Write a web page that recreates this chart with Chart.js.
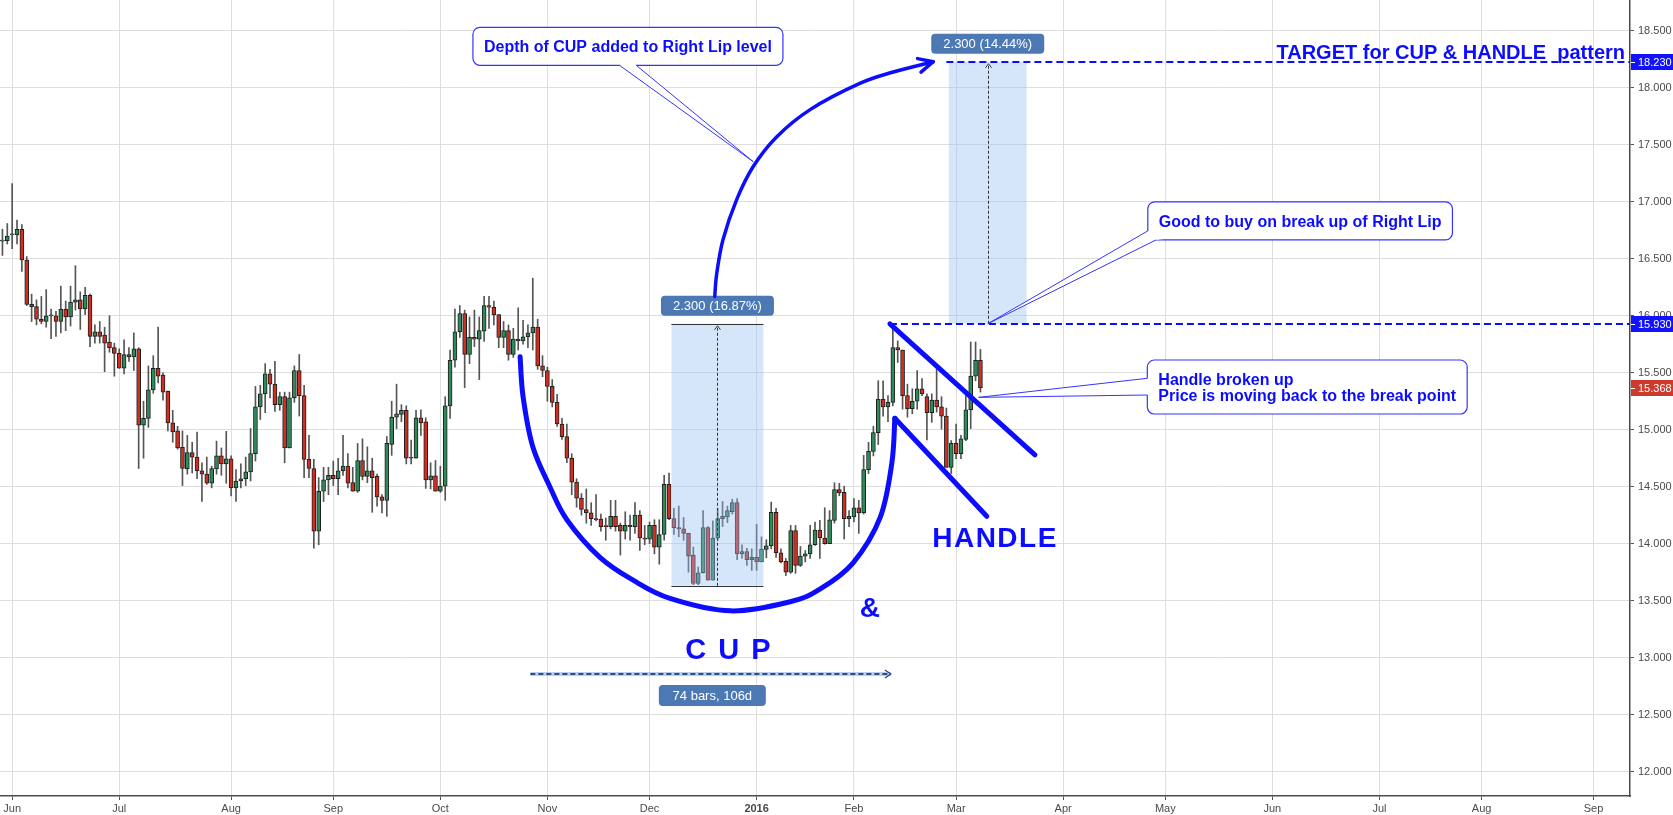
<!DOCTYPE html>
<html>
<head>
<meta charset="utf-8">
<title>CUP &amp; HANDLE</title>
<script src="https://cdn.jsdelivr.net/npm/chart.js@4.4.1/dist/chart.umd.min.js"></script>
<style>
  html, body { margin: 0; padding: 0; background: #fff; }
  canvas { display: block; }
</style>
</head>
<body>
<canvas id="chart" width="1673" height="815"></canvas>
<script>
// trading calendar (weekdays, minus these holidays)
const firstDay = '2015-05-28';
const lastDay = '2016-09-12';
const holidays = ['2015-12-25', '2016-01-01', '2016-03-25'];
const monthNames = ['Jan', 'Feb', 'Mar', 'Apr', 'May', 'Jun', 'Jul', 'Aug', 'Sep', 'Oct', 'Nov', 'Dec'];

// daily OHLC, one entry per trading day from firstDay
const opens = [
  16.655, 16.66, 16.71, 16.71, 16.76, 16.49, 16.10, 16.08, 15.97, 15.95,
  16.00, 16.00, 15.95, 16.06, 15.99, 16.12, 16.14, 16.06, 16.18, 15.82,
  15.86, 15.83, 15.77, 15.72, 15.67, 15.54, 15.66, 15.64, 15.71, 15.04,
  15.10, 15.35, 15.54, 15.48, 15.34, 15.06, 14.99, 14.845, 14.655, 14.80,
  14.76, 14.64, 14.61, 14.53, 14.655, 14.77, 14.70, 14.745, 14.49, 14.55,
  14.57, 14.63, 14.79, 15.20, 15.315, 15.49, 15.40, 15.22, 15.29, 14.84,
  15.28, 15.52, 15.30, 14.74, 14.66, 14.11, 14.46, 14.56, 14.60, 14.57,
  14.64, 14.68, 14.535, 14.46, 14.73, 14.59, 14.64, 14.59, 14.41, 14.38,
  14.87, 15.11, 15.135, 15.17, 14.75, 14.75, 15.105, 15.07, 14.56, 14.595,
  14.46, 14.505, 15.21, 15.61, 15.86, 16.02, 15.66, 15.81, 15.795, 15.865,
  16.09, 16.075, 16.01, 15.81, 15.87, 15.66, 15.795, 15.78, 15.815, 15.85,
  15.90, 15.56, 15.52, 15.38, 15.24, 15.05, 14.94, 14.75, 14.54, 14.40,
  14.30, 14.27, 14.22, 14.215, 14.155, 14.15, 14.24, 14.16, 14.11, 14.16,
  14.15, 14.25, 14.05, 14.04, 14.16, 13.97, 14.08, 14.52, 14.22, 14.14,
  14.13, 14.09, 13.90, 13.65, 13.745, 14.14, 13.68, 14.05, 14.22, 14.235,
  14.28, 14.36, 13.91, 13.93, 13.86, 13.88, 13.84, 13.95, 13.98, 14.275,
  13.92, 13.845, 13.75, 14.115, 13.81, 13.89, 13.91, 13.99, 14.12, 14.05,
  14.00, 14.205, 14.475, 14.45, 14.22, 14.235, 14.315, 14.27, 14.65, 14.81,
  14.975, 15.27, 15.20, 15.24, 15.72, 15.70, 15.30, 15.185, 15.25, 15.36,
  15.29, 15.15, 15.26, 15.20, 15.12, 14.67, 14.88, 14.79, 14.915, 15.175,
  15.47, 15.61
];
const highs = [
  16.76, 16.81, 17.16, 16.84, 16.80, 16.52, 16.19, 16.14, 16.17, 16.23,
  16.06, 16.04, 16.26, 16.13, 16.26, 16.44, 16.21, 16.25, 16.19, 15.92,
  15.95, 15.90, 16.00, 15.76, 15.71, 15.79, 15.72, 15.85, 15.72, 15.25,
  15.56, 15.65, 15.90, 15.50, 15.34, 15.17, 15.03, 14.99, 14.95, 14.89,
  14.98, 14.71, 14.76, 14.68, 14.90, 14.84, 14.985, 14.77, 14.65, 14.70,
  14.76, 15.01, 15.38, 15.39, 15.58, 15.53, 15.60, 15.33, 15.33, 15.33,
  15.56, 15.66, 15.39, 14.95, 14.74, 14.58, 14.67, 14.67, 14.725, 14.75,
  14.95, 14.79, 14.67, 14.88, 14.92, 14.85, 14.75, 14.61, 14.43, 14.94,
  15.25, 15.40, 15.22, 15.21, 14.91, 15.17, 15.175, 15.105, 14.71, 14.73,
  14.68, 15.29, 15.70, 16.06, 16.09, 16.05, 15.99, 16.05, 15.99, 16.17,
  16.17, 16.13, 16.01, 15.95, 15.92, 15.89, 16.07, 15.96, 15.92, 16.33,
  15.97, 15.65, 15.55, 15.44, 15.31, 15.10, 15.05, 14.79, 14.57, 14.44,
  14.48, 14.36, 14.43, 14.26, 14.225, 14.38, 14.38, 14.18, 14.28, 14.25,
  14.36, 14.29, 14.16, 14.19, 14.21, 14.21, 14.60, 14.62, 14.31, 14.33,
  14.23, 14.09, 13.97, 13.795, 14.29, 14.15, 14.20, 14.31, 14.37, 14.33,
  14.39, 14.395, 13.99, 13.96, 13.955, 14.17, 14.06, 14.035, 14.365, 14.31,
  13.955, 13.87, 14.16, 14.16, 13.975, 13.94, 14.16, 14.19, 14.205, 14.315,
  14.29, 14.535, 14.53, 14.505, 14.29, 14.395, 14.38, 14.775, 14.89, 15.03,
  15.43, 15.43, 15.30, 15.93, 15.78, 15.70, 15.40, 15.36, 15.52, 15.45,
  15.315, 15.315, 15.56, 15.29, 15.19, 14.905, 15.05, 14.95, 15.30, 15.77,
  15.77, 15.705
];
const lows = [
  16.53, 16.63, 16.59, 16.63, 16.39, 16.09, 15.95, 15.92, 15.93, 15.90,
  15.80, 15.82, 15.85, 15.87, 15.91, 16.05, 15.88, 16.01, 15.73, 15.76,
  15.76, 15.51, 15.68, 15.47, 15.54, 15.49, 15.60, 15.52, 14.66, 14.75,
  15.02, 15.32, 15.41, 15.26, 14.99, 14.89, 14.83, 14.51, 14.61, 14.62,
  14.57, 14.37, 14.52, 14.49, 14.61, 14.60, 14.53, 14.42, 14.37, 14.49,
  14.51, 14.55, 14.725, 15.09, 15.15, 15.28, 15.16, 15.17, 14.71, 14.84,
  15.24, 15.12, 14.58, 14.58, 13.96, 13.99, 14.37, 14.43, 14.51, 14.43,
  14.60, 14.49, 14.46, 14.45, 14.56, 14.535, 14.275, 14.33, 14.27, 14.24,
  14.775, 15.01, 15.07, 14.70, 14.70, 14.75, 14.95, 14.485, 14.48, 14.46,
  14.45, 14.38, 15.10, 15.55, 15.81, 15.37, 15.58, 15.73, 15.44, 15.775,
  15.89, 15.92, 15.72, 15.72, 15.61, 15.635, 15.70, 15.75, 15.72, 15.70,
  15.53, 15.465, 15.25, 15.20, 15.03, 14.915, 14.71, 14.43, 14.32, 14.25,
  14.18, 14.16, 14.20, 14.11, 14.03, 14.13, 14.11, 13.90, 14.04, 14.03,
  14.09, 13.94, 13.99, 14.00, 13.91, 13.82, 14.03, 14.21, 14.08, 14.06,
  14.03, 13.75, 13.64, 13.64, 13.74, 13.68, 13.68, 14.03, 14.15, 14.185,
  14.26, 13.86, 13.87, 13.81, 13.765, 13.765, 13.84, 13.875, 13.955, 13.88,
  13.83, 13.72, 13.74, 13.74, 13.80, 13.84, 13.87, 13.985, 13.87, 13.995,
  14.00, 14.18, 14.42, 14.04, 14.15, 14.19, 14.09, 14.26, 14.615, 14.77,
  14.87, 15.12, 15.07, 15.21, 15.59, 15.18, 15.11, 15.14, 15.18, 15.30,
  14.91, 15.065, 15.155, 15.005, 14.67, 14.615, 14.745, 14.745, 14.905, 15.01,
  15.43, 15.33
];
const closes = [
  16.665, 16.70, 16.72, 16.76, 16.49, 16.10, 16.08, 15.97, 15.95, 16.00,
  16.00, 15.95, 16.06, 15.99, 16.12, 16.14, 16.06, 16.18, 15.82, 15.86,
  15.82, 15.76, 15.72, 15.67, 15.54, 15.66, 15.64, 15.71, 15.04, 15.10,
  15.35, 15.54, 15.47, 15.33, 15.06, 14.98, 14.84, 14.66, 14.80, 14.76,
  14.64, 14.61, 14.53, 14.66, 14.77, 14.70, 14.745, 14.49, 14.55, 14.57,
  14.63, 14.79, 15.20, 15.315, 15.49, 15.40, 15.22, 15.29, 14.84, 15.28,
  15.52, 15.30, 14.74, 14.66, 14.11, 14.46, 14.56, 14.60, 14.57, 14.64,
  14.68, 14.53, 14.46, 14.73, 14.59, 14.64, 14.58, 14.41, 14.38, 14.88,
  15.11, 15.14, 15.17, 14.75, 14.75, 15.105, 15.06, 14.56, 14.595, 14.46,
  14.505, 15.21, 15.61, 15.86, 16.02, 15.66, 15.81, 15.795, 15.87, 16.09,
  16.075, 16.01, 15.81, 15.87, 15.66, 15.795, 15.78, 15.815, 15.85, 15.90,
  15.56, 15.52, 15.38, 15.24, 15.05, 14.94, 14.75, 14.54, 14.40, 14.30,
  14.27, 14.22, 14.21, 14.15, 14.15, 14.24, 14.15, 14.11, 14.16, 14.15,
  14.25, 14.05, 14.04, 14.16, 13.97, 14.08, 14.52, 14.22, 14.14, 14.13,
  14.09, 13.89, 13.65, 13.745, 14.14, 13.68, 14.05, 14.22, 14.24, 14.29,
  14.36, 13.91, 13.93, 13.86, 13.88, 13.84, 13.95, 13.98, 14.275, 13.92,
  13.84, 13.75, 14.115, 13.81, 13.89, 13.91, 13.99, 14.12, 14.05, 14.00,
  14.21, 14.475, 14.445, 14.22, 14.24, 14.315, 14.27, 14.65, 14.81, 14.975,
  15.27, 15.20, 15.24, 15.72, 15.70, 15.30, 15.185, 15.25, 15.36, 15.315,
  15.15, 15.26, 15.20, 15.12, 14.67, 14.88, 14.79, 14.92, 15.175, 15.47,
  15.61, 15.368
];

// levels used by the drawings
const lipLevel = 15.93;
const targetLevel = 18.23;
const cupLow = 13.63;
const lastClose = closes[closes.length - 1];

// hand-drawn shapes, as [bar index, price]
const cupPath = [
  [106.4, 15.64], [107.0, 15.29], [109.0, 14.85], [112.5, 14.50], [116.0, 14.21],
  [122.8, 13.88], [129.6, 13.68], [137.2, 13.52], [149.7, 13.41], [161.9, 13.49],
  [168.0, 13.60], [174.8, 13.83], [180.4, 14.23], [182.8, 14.71], [183.4, 15.10]
];
const arcPath = [
  [146.4, 16.17], [146.8, 16.37], [148.1, 16.67], [150.9, 17.02], [154.3, 17.31],
  [159.1, 17.57], [166.0, 17.81], [176.2, 18.04], [183.1, 18.14], [191.3, 18.23]
];
const handleUpper = [[182.4, 15.93], [212.2, 14.78]];
const handleLower = [[183.4, 15.10], [202.3, 14.24]];

const upColor = '#2f8a5a';
const downColor = '#cf2f22';
const blue = '#0c0cff';
const FONT = '"Liberation Sans", Arial, sans-serif';

function tradingDays(from, to, skip) {
  const out = [];
  const d = new Date(from + 'T00:00:00Z');
  const end = new Date(to + 'T00:00:00Z');
  while (d <= end) {
    const wd = d.getUTCDay();
    const s = d.toISOString().slice(0, 10);
    if (wd !== 0 && wd !== 6 && !skip.includes(s)) out.push(s);
    d.setUTCDate(d.getUTCDate() + 1);
  }
  return out;
}
const days = tradingDays(firstDay, lastDay, holidays);

// label only the first trading day of every month (null drops the tick)
function monthLabel(i) {
  if (!i || !days[i]) return null;
  const cur = days[i], prev = days[i - 1];
  if (cur.slice(0, 7) === prev.slice(0, 7)) return null;
  const m = +cur.slice(5, 7);
  return m === 1 ? cur.slice(0, 4) : monthNames[m - 1];
}

function roundRect(ctx, x, y, w, h, r) {
  ctx.beginPath();
  ctx.moveTo(x + r, y);
  ctx.arcTo(x + w, y, x + w, y + h, r);
  ctx.arcTo(x + w, y + h, x, y + h, r);
  ctx.arcTo(x, y + h, x, y, r);
  ctx.arcTo(x, y, x + w, y, r);
  ctx.closePath();
}

function smoothPath(ctx, pts) {
  ctx.moveTo(pts[0][0], pts[0][1]);
  for (let i = 0; i < pts.length - 1; i++) {
    const p0 = pts[i - 1] || pts[i], p1 = pts[i], p2 = pts[i + 1], p3 = pts[i + 2] || p2;
    ctx.bezierCurveTo(
      p1[0] + (p2[0] - p0[0]) / 6, p1[1] + (p2[1] - p0[1]) / 6,
      p2[0] - (p3[0] - p1[0]) / 6, p2[1] - (p3[1] - p1[1]) / 6,
      p2[0], p2[1]);
  }
}

// steel blue info pill (price range / date range labels)
function pill(ctx, cx, top, w, h, text) {
  roundRect(ctx, cx - w / 2, top, w, h, 4);
  ctx.fillStyle = 'rgb(76,121,180)';
  ctx.fill();
  ctx.fillStyle = '#fff';
  ctx.font = '13px ' + FONT;
  ctx.textAlign = 'center';
  ctx.textBaseline = 'middle';
  ctx.fillText(text, cx, top + h / 2 + 1);
}

function callout(ctx, x, y, lines, baseA, baseB, tip) {
  ctx.font = 'bold 16px ' + FONT;
  const w = Math.max(...lines.map(l => ctx.measureText(l).width)) + 22;
  const h = lines.length * 16 + 22;
  roundRect(ctx, x, y, w, h, 7);
  ctx.fillStyle = '#fff';
  ctx.fill();
  ctx.strokeStyle = '#3434ff';
  ctx.lineWidth = 1.2;
  ctx.stroke();
  const a = [x + baseA[0], y + baseA[1]], b = [x + baseB[0], y + baseB[1]];
  ctx.beginPath();
  ctx.moveTo(a[0], a[1]);
  ctx.lineTo(tip[0], tip[1]);
  ctx.lineTo(b[0], b[1]);
  ctx.lineTo(x + w / 2, y + h / 2);
  ctx.closePath();
  ctx.fillStyle = '#fff';
  ctx.fill();
  ctx.beginPath();
  ctx.moveTo(a[0], a[1]);
  ctx.lineTo(tip[0], tip[1]);
  ctx.lineTo(b[0], b[1]);
  ctx.lineWidth = 1;
  ctx.stroke();
  ctx.fillStyle = blue;
  ctx.textAlign = 'left';
  ctx.textBaseline = 'alphabetic';
  lines.forEach((l, i) => ctx.fillText(l, x + 11, y + 25 + i * 16));
}

const drawings = {
  id: 'drawings',
  afterDatasetsDraw(chart) {
    const ctx = chart.ctx;
    const xs = chart.scales.x, ys = chart.scales.y;
    const X = v => xs.getPixelForValue(v);
    const Y = v => ys.getPixelForValue(v);
    const px = p => [X(p[0]), Y(p[1])];
    const area = chart.chartArea;
    ctx.save();

    // price range boxes
    [
      { from: 137.5, to: 156.4, low: cupLow, high: lipLevel, text: '2.300 (16.87%)', edges: true },
      { from: 194.5, to: 210.5, low: lipLevel, high: targetLevel, text: '2.300 (14.44%)', edges: false }
    ].forEach(b => {
      const x0 = X(b.from), x1 = X(b.to), yt = Y(b.high), yb = Y(b.low);
      ctx.fillStyle = 'rgba(153,192,242,0.4)';
      ctx.fillRect(x0, yt, x1 - x0, yb - yt);
      ctx.strokeStyle = '#333';
      ctx.lineWidth = 1;
      if (b.edges) {
        ctx.beginPath();
        ctx.moveTo(x0, Math.round(yt) + 0.5); ctx.lineTo(x1, Math.round(yt) + 0.5);
        ctx.moveTo(x0, Math.round(yb) + 0.5); ctx.lineTo(x1, Math.round(yb) + 0.5);
        ctx.stroke();
      }
      const cx = Math.round((x0 + x1) / 2) + 0.5;
      ctx.setLineDash([3, 2]);
      ctx.beginPath();
      ctx.moveTo(cx, yb); ctx.lineTo(cx, yt + 2);
      ctx.stroke();
      ctx.setLineDash([]);
      ctx.beginPath();
      ctx.moveTo(cx - 3, yt + 6); ctx.lineTo(cx, yt + 2); ctx.lineTo(cx + 3, yt + 6);
      ctx.stroke();
      pill(ctx, (x0 + x1) / 2, yt - 28, 113, 20, b.text);
    });

    // lip and target levels
    ctx.strokeStyle = blue;
    ctx.lineWidth = 2;
    ctx.setLineDash([7, 4]);
    [[182.4, lipLevel], [194, targetLevel]].forEach(([i, v]) => {
      const y = Math.round(Y(v));
      ctx.beginPath();
      ctx.moveTo(X(i), y); ctx.lineTo(area.right, y);
      ctx.stroke();
    });
    ctx.setLineDash([]);

    // cup
    ctx.lineCap = 'round';
    ctx.lineJoin = 'round';
    ctx.lineWidth = 5;
    ctx.beginPath();
    smoothPath(ctx, cupPath.map(px));
    ctx.stroke();

    // handle lines
    [handleUpper, handleLower].forEach(seg => {
      const a = px(seg[0]), b = px(seg[1]);
      ctx.beginPath();
      ctx.moveTo(a[0], a[1]); ctx.lineTo(b[0], b[1]);
      ctx.stroke();
    });

    // curved arrow from cup depth to target
    const arc = arcPath.map(px);
    ctx.lineWidth = 3.5;
    ctx.beginPath();
    smoothPath(ctx, arc);
    ctx.stroke();
    const t = arc[arc.length - 1], s = arc[arc.length - 2];
    const ang = Math.atan2(t[1] - s[1], t[0] - s[0]);
    ctx.beginPath();
    ctx.moveTo(t[0] - 16 * Math.cos(ang - 0.45), t[1] - 16 * Math.sin(ang - 0.45));
    ctx.lineTo(t[0], t[1]);
    ctx.lineTo(t[0] - 16 * Math.cos(ang + 0.45), t[1] - 16 * Math.sin(ang + 0.45));
    ctx.stroke();

    // date range
    const dy = Math.round(Y(12.86));
    const dx0 = X(108.5), dx1 = X(182.6);
    ctx.strokeStyle = 'rgba(120,160,220,0.5)';
    ctx.lineWidth = 4;
    ctx.lineCap = 'butt';
    ctx.beginPath();
    ctx.moveTo(dx0, dy); ctx.lineTo(dx1, dy);
    ctx.stroke();
    ctx.strokeStyle = '#2d4f86';
    ctx.lineWidth = 2;
    ctx.setLineDash([5, 3]);
    ctx.beginPath();
    ctx.moveTo(dx0, dy); ctx.lineTo(dx1, dy);
    ctx.stroke();
    ctx.setLineDash([]);
    ctx.lineWidth = 1.5;
    ctx.beginPath();
    ctx.moveTo(dx1 - 6, dy - 4); ctx.lineTo(dx1, dy); ctx.lineTo(dx1 - 6, dy + 4);
    ctx.stroke();
    pill(ctx, X(145.9), dy + 11, 107, 21, '74 bars, 106d');

    // big labels
    ctx.fillStyle = blue;
    ctx.textBaseline = 'alphabetic';
    ctx.textAlign = 'center';
    ctx.font = 'bold 29px ' + FONT;
    ctx.letterSpacing = '2px';
    ctx.fillText('C U P', X(149.3), Y(12.99));
    ctx.font = 'bold 28px ' + FONT;
    ctx.letterSpacing = '1.5px';
    ctx.fillText('HANDLE', X(204), Y(13.973));
    ctx.letterSpacing = '0px';
    ctx.fillText('&', X(178.3), Y(13.356));
    ctx.textAlign = 'right';
    ctx.font = 'bold 20px ' + FONT;
    ctx.fillText('TARGET for CUP & HANDLE  pattern', area.right - 5, Y(18.254));

    // callouts
    callout(ctx, X(96.7), Y(18.532), ['Depth of CUP added to Right Lip level'],
      [146.6, 38], [163.3, 38], px([154.3, 17.353]));
    callout(ctx, X(235.4), Y(17.0), ['Good to buy on break up of Right Lip'],
      [0, 29], [8.3, 38], px([202.5, lipLevel]));
    callout(ctx, X(235.3), Y(15.612), ['Handle broken up', 'Price is moving back to the break point'],
      [0, 18.3], [0, 35], px([200.6, 15.284]));

    ctx.restore();
  },
  afterDraw(chart) {
    const ctx = chart.ctx;
    const ys = chart.scales.y;
    const area = chart.chartArea;
    ctx.save();
    [[targetLevel, '#1212ff'], [lipLevel, '#1212ff'], [lastClose, '#cc3b2c']].forEach(([v, c]) => {
      const y = Math.round(ys.getPixelForValue(v));
      ctx.fillStyle = c;
      ctx.fillRect(area.right + 1, y - 8, chart.width - area.right - 1, 16);
      ctx.fillStyle = '#fff';
      ctx.fillRect(area.right + 1, y, 4, 1);
      ctx.font = '11px ' + FONT;
      ctx.textAlign = 'left';
      ctx.textBaseline = 'middle';
      ctx.fillText(v.toFixed(3), area.right + 8, y + 0.5);
    });
    ctx.restore();
  }
};

Chart.defaults.font.family = FONT;

new Chart(document.getElementById('chart'), {
  type: 'bar',
  data: {
    labels: days,
    datasets: [
      {
        label: 'body',
        data: opens.map((o, i) => [o, closes[i]]),
        backgroundColor: opens.map((o, i) => closes[i] >= o ? upColor : downColor),
        borderColor: '#1e1e1e',
        borderWidth: 1,
        borderSkipped: false,
        barThickness: 4,
        minBarLength: 1,
        grouped: false,
        order: 0
      },
      {
        label: 'wick',
        data: lows.map((l, i) => [l, highs[i]]),
        backgroundColor: '#555',
        borderWidth: 0,
        barThickness: 1,
        grouped: false,
        order: 1
      }
    ]
  },
  options: {
    responsive: false,
    devicePixelRatio: 1,
    animation: false,
    layout: { padding: 0 },
    plugins: {
      legend: { display: false },
      title: { display: false },
      tooltip: { enabled: false }
    },
    scales: {
      x: {
        type: 'category',
        offset: true,
        grid: { offset: false, color: '#dedede', tickColor: '#555', tickLength: 4 },
        border: { color: '#4a4a4a', width: 1.5 },
        ticks: {
          autoSkip: false,
          maxRotation: 0,
          minRotation: 0,
          padding: 2,
          color: '#4a4a4a',
          font: c => ({ size: 11, weight: (c.tick && c.tick.label === '2016') ? 'bold' : 'normal' }),
          callback: (v, i) => monthLabel(v)
        },
        afterFit: s => { s.height = 19; s.paddingLeft = 0; s.paddingRight = 0; }
      },
      y: {
        position: 'right',
        min: 11.785,
        max: 18.772,
        grid: { color: '#dedede', tickColor: '#555', tickLength: 4 },
        border: { color: '#4a4a4a', width: 1.5 },
        ticks: {
          stepSize: 0.5,
          includeBounds: false,
          padding: 4,
          color: '#4a4a4a',
          font: { size: 11 },
          callback: v => v.toFixed(3)
        },
        afterFit: s => { s.width = 43; s.paddingTop = 0; s.paddingBottom = 0; }
      }
    }
  },
  plugins: [drawings]
});
</script>
</body>
</html>
